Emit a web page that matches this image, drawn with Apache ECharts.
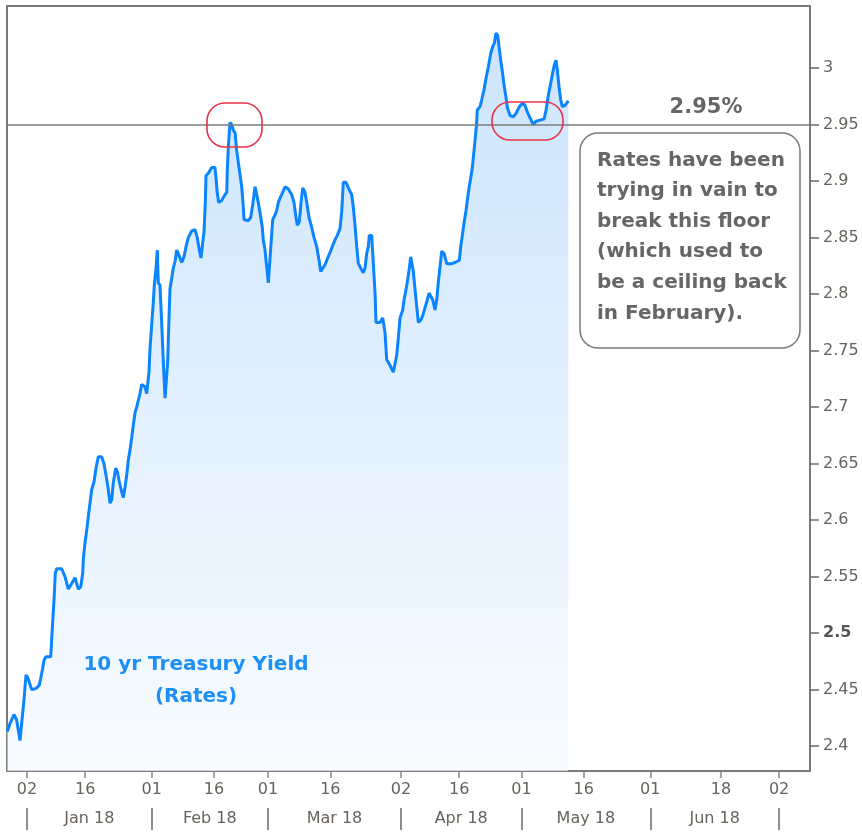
<!DOCTYPE html>
<html>
<head>
<meta charset="utf-8">
<script src="https://cdn.jsdelivr.net/npm/echarts@6/dist/echarts.min.js"></script>
<style>html,body{margin:0;padding:0;background:#fff}#c{width:862px;height:833px}</style>
</head>
<body>
<div id="c"></div>
<script>
// x values: day of 2018 (Jan 1 00:00 = 0, Jan 2 = 1), fractional
var days = [-3.74,-3.09,-2.13,-1.48,-1.09,-0.68,-0.28,-0.03,0.28,0.76,
1.24,2.13,3.17,3.96,4.30,4.78,5.09,5.57,6.70,7.09,
7.50,7.81,8.15,9.35,10.15,10.94,11.76,12.55,13.35,13.93,
14.41,14.55,14.96,15.37,15.75,16.16,16.57,17.13,17.61,18.16,
18.98,19.53,20.01,20.57,20.98,21.39,21.77,22.35,22.73,23.22,
23.79,24.18,24.59,25.00,25.38,25.79,26.20,26.58,27.00,27.40,
27.79,28.20,28.61,29.40,29.81,30.20,30.36,30.61,31.01,31.40,
31.64,32.05,32.36,32.60,33.01,33.42,33.81,34.22,34.62,34.86,
35.11,35.42,35.83,36.21,36.69,37.03,37.51,38.23,38.79,39.27,
39.82,40.64,41.44,41.99,42.47,42.88,43.19,43.60,43.92,44.08,
44.64,45.45,46.25,46.49,46.80,47.14,47.86,48.66,49.07,49.21,
49.45,49.86,50.27,50.65,51.07,51.47,52.10,52.68,53.06,53.23,
54.27,54.84,55.32,55.88,56.28,56.67,57.08,57.63,57.87,58.28,
58.69,59.08,59.49,59.73,60.14,60.69,61.10,61.48,61.89,62.54,
63.10,63.89,64.71,65.26,65.74,66.06,66.54,66.95,67.36,67.91,
68.32,68.87,69.52,70.08,70.73,71.28,71.69,72.17,72.72,73.37,
73.93,74.58,75.13,75.68,76.33,76.74,77.13,77.78,78.33,79.15,
79.53,79.94,80.35,80.74,81.32,81.94,82.35,82.76,83.14,83.38,
83.96,84.35,84.76,85.00,85.96,86.61,87.16,87.57,88.37,89.16,
89.57,89.98,90.36,90.78,91.43,91.74,92.22,92.54,92.94,93.35,
93.74,93.98,94.39,94.80,95.18,95.76,96.24,96.79,97.20,97.76,
98.24,98.65,99.20,99.61,100.00,100.40,100.81,101.37,102.01,103.22,
104.01,105.05,105.38,105.77,106.18,106.66,106.97,107.38,107.79,108.18,
108.58,108.82,109.18,109.37,110.02,110.43,110.99,111.47,112.02,112.60,
113.08,113.47,113.88,114.29,114.60,115.01,115.40,115.81,116.29,116.60,
117.25,118.05,118.70,119.49,120.31,120.86,121.42,122.06,122.86,123.51,
124.47,125.44,125.92,126.47,127.05,127.53,127.92,128.32,128.64,129.05,
129.45,129.84,130.49,131.28];

var yields = [2.413,2.420,2.428,2.423,2.414,2.405,2.404,2.430,2.441,2.463,
2.460,2.450,2.451,2.454,2.460,2.469,2.476,2.479,2.479,2.504,
2.529,2.553,2.557,2.557,2.550,2.539,2.544,2.549,2.539,2.541,
2.553,2.565,2.580,2.591,2.603,2.615,2.627,2.634,2.646,2.656,
2.656,2.650,2.640,2.627,2.615,2.618,2.633,2.646,2.643,2.634,
2.625,2.620,2.629,2.640,2.653,2.662,2.673,2.684,2.695,2.700,
2.706,2.712,2.720,2.718,2.712,2.713,2.731,2.752,2.773,2.793,
2.808,2.823,2.839,2.810,2.808,2.774,2.740,2.708,2.708,2.740,
2.771,2.805,2.814,2.823,2.830,2.839,2.835,2.828,2.833,2.842,
2.850,2.856,2.857,2.850,2.839,2.832,2.842,2.855,2.881,2.905,
2.907,2.912,2.912,2.903,2.889,2.881,2.883,2.888,2.890,2.910,
2.930,2.952,2.950,2.945,2.943,2.927,2.910,2.895,2.877,2.866,
2.865,2.868,2.879,2.895,2.888,2.881,2.872,2.859,2.848,2.839,
2.824,2.810,2.810,2.845,2.866,2.870,2.874,2.881,2.885,2.890,
2.895,2.893,2.888,2.881,2.868,2.861,2.864,2.881,2.894,2.890,
2.881,2.868,2.859,2.850,2.842,2.830,2.820,2.820,2.826,2.832,
2.837,2.843,2.848,2.852,2.858,2.873,2.899,2.899,2.894,2.888,
2.877,2.861,2.842,2.827,2.823,2.819,2.823,2.836,2.842,2.852,
2.852,2.827,2.801,2.775,2.775,2.779,2.766,2.742,2.737,2.731,
2.731,2.746,2.761,2.779,2.786,2.795,2.804,2.811,2.821,2.833,
2.832,2.820,2.804,2.789,2.775,2.777,2.781,2.788,2.793,2.801,
2.801,2.795,2.786,2.795,2.811,2.824,2.838,2.836,2.827,2.827,
2.828,2.830,2.842,2.852,2.863,2.874,2.883,2.894,2.903,2.912,
2.927,2.936,2.950,2.963,2.966,2.972,2.981,2.991,3.001,3.013,
3.019,3.022,3.031,3.029,3.019,3.007,2.997,2.985,2.974,2.965,
2.958,2.957,2.960,2.966,2.969,2.967,2.961,2.956,2.950,2.953,
2.954,2.955,2.963,2.976,2.987,2.996,3.003,3.007,2.998,2.983,
2.972,2.966,2.967,2.971];

// tick positions (day of 2018) and labels
var dayTicks = [1, 15, 31, 46, 59, 74, 91, 105, 120, 135, 151, 168, 182];
var dayLabels = ['02','16','01','16','01','16','02','16','01','16','01','18','02'];
var monthSeps = [1, 31, 59, 91, 120, 151, 182];
var monthMids = [16, 45, 75, 105.5, 135.5, 166.5];
var monthLabels = ['Jan 18','Feb 18','Mar 18','Apr 18','May 18','Jun 18'];
var yTicks = [2.4,2.45,2.5,2.55,2.6,2.65,2.7,2.75,2.8,2.85,2.9,2.95,3];
var floorLevel = 2.95;

if (days.length !== yields.length) throw new Error('length mismatch ' + days.length + ' ' + yields.length);
var seriesData = days.map(function (d, i) { return [d, yields[i]]; });

var FONT = 'DejaVu Sans';
var chart = echarts.init(document.getElementById('c'), null, {renderer: 'canvas'});
chart.setOption({
  animation: false,
  backgroundColor: '#fff',
  grid: {left: 7, top: 6, right: 52, bottom: 62, show: true, borderColor: '#7a7a7a', borderWidth: 2, backgroundColor: 'transparent'},
  xAxis: [{
    type: 'value', min: -3.81, max: 189.44, position: 'bottom',
    axisLine: {show: false, onZero: false}, splitLine: {show: false},
    axisTick: {show: true, customValues: dayTicks, length: 7, lineStyle: {color: '#8a8a8a', width: 1.5}},
    axisLabel: {customValues: dayTicks, margin: 11, fontFamily: FONT, fontSize: 16, color: '#67625c',
      formatter: function (v) { var i = dayTicks.indexOf(v); return i >= 0 ? dayLabels[i] : ''; }}
  }, {
    type: 'value', min: -3.81, max: 189.44, position: 'bottom', offset: 37,
    axisLine: {show: false, onZero: false}, splitLine: {show: false},
    axisTick: {show: true, customValues: monthSeps, length: 22, lineStyle: {color: '#6a6a6a', width: 1.5}},
    axisLabel: {customValues: monthMids, margin: 3, fontFamily: FONT, fontSize: 16, color: '#67625c',
      formatter: function (v) { var i = monthMids.indexOf(v); return i >= 0 ? monthLabels[i] : ''; }}
  }],
  yAxis: {
    type: 'value', position: 'right', min: 2.378, max: 3.055, scale: true,
    axisLine: {show: false, onZero: false}, splitLine: {show: false},
    axisTick: {show: true, customValues: yTicks, length: 9, lineStyle: {color: '#6a6a6a', width: 1.5}},
    axisLabel: {customValues: yTicks, margin: 13, fontFamily: FONT, fontSize: 16, color: '#67625c',
      formatter: function (v) { var s = String(Math.round(v * 100) / 100); return Math.abs(v - 2.5) < 1e-9 ? '{b|' + s + '}' : s; },
      rich: {b: {fontWeight: 'bold', fontFamily: FONT, fontSize: 16, color: '#555'}}}
  },
  series: [{
    type: 'line', xAxisIndex: 0, data: seriesData, showSymbol: false, smooth: false,
    lineStyle: {color: '#0a84ff', width: 3},
    areaStyle: {color: {type: 'linear', x: 0, y: 0, x2: 0, y2: 1, colorStops: [
      {offset: 0, color: '#b6d9fb'}, {offset: 1, color: '#f5faff'}]}, origin: 'start'},
    markLine: {silent: true, symbol: ['none', 'none'], label: {show: false},
      lineStyle: {color: '#7d7d7d', width: 1.5, type: 'solid'}, data: [{yAxis: floorLevel}]},
    z: 3
  }],
  graphic: [
    {type: 'rect', z: 100, shape: {x: 207, y: 103, width: 55, height: 44, r: 18},
      style: {fill: 'none', stroke: '#e8314a', lineWidth: 1.6}},
    {type: 'rect', z: 100, shape: {x: 492, y: 102, width: 71, height: 38, r: 18},
      style: {fill: 'none', stroke: '#e8314a', lineWidth: 1.6}},
    {type: 'text', z: 100, style: {x: 706, y: 108, text: '2.95%', fill: '#666', align: 'center', verticalAlign: 'middle',
      font: 'bold 21px "DejaVu Sans"'}},
    {type: 'rect', z: 99, shape: {x: 580, y: 133, width: 220, height: 215, r: 18},
      style: {fill: '#fff', stroke: '#7a7a7a', lineWidth: 1.5}},
    {type: 'text', z: 100, style: {x: 597, y: 145, text: 'Rates have been\ntrying in vain to\nbreak this floor\n(which used to\nbe a ceiling back\nin February).',
      fill: '#666', align: 'left', verticalAlign: 'top', lineHeight: 30.6, font: 'bold 20px "DejaVu Sans"'}},
    {type: 'text', z: 100, style: {x: 196, y: 649, text: '10 yr Treasury Yield\n(Rates)', fill: '#1e8ff5', align: 'center', verticalAlign: 'top',
      lineHeight: 32, font: 'bold 20px "DejaVu Sans"'}}
  ]
});
</script>
</body>
</html>
